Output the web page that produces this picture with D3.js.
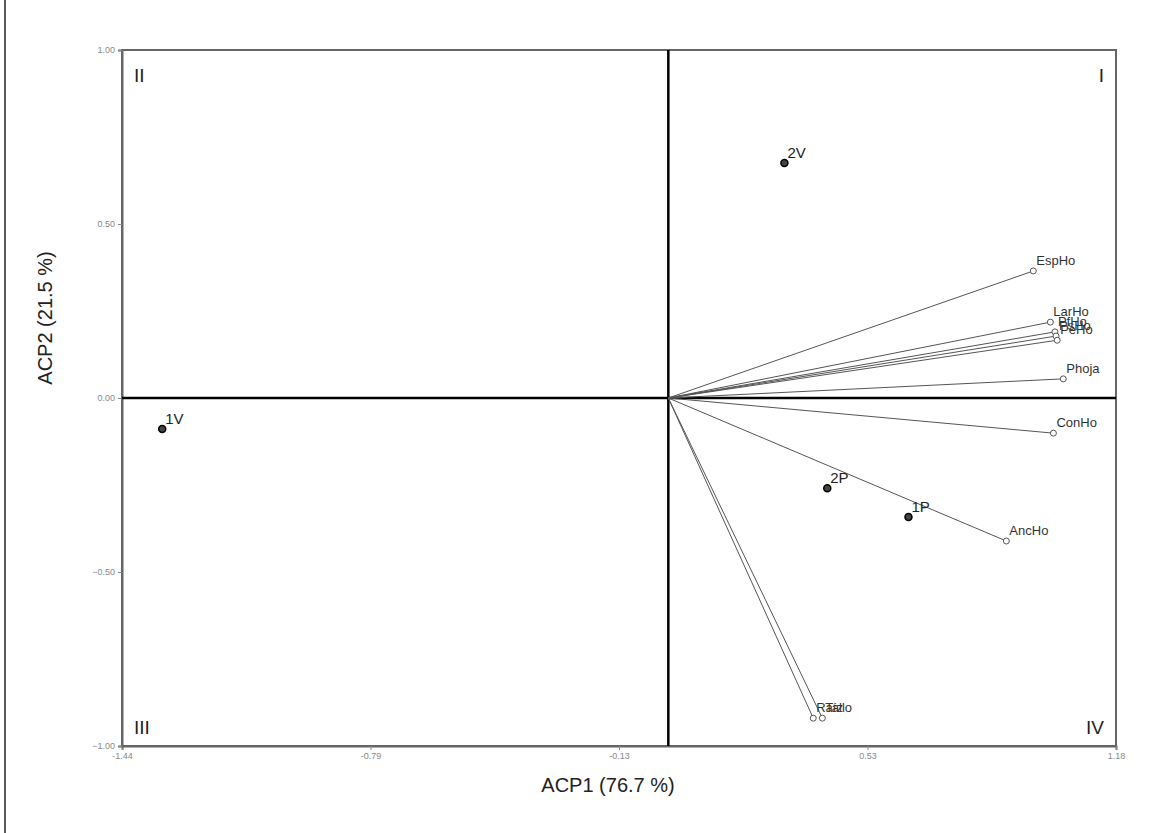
<!DOCTYPE html>
<html>
<head>
<meta charset="utf-8">
<script src="https://cdn.jsdelivr.net/npm/d3@7"></script>
<style>
  body { margin: 0; background: #fff; }
  svg { font-family: "Liberation Sans", Arial, sans-serif; }
  .tick text { fill: #888; font-size: 9px; }
</style>
</head>
<body>
<div id="chart"></div>
<script>
// observations (site scores)
const obsNames = ["2V", "1V", "2P", "1P"];
const obsX = [0.306, -1.334, 0.419, 0.633];
const obsY = [0.675, -0.089, -0.259, -0.342];

// variables (vector endpoints)
const varNames = ["EspHo", "LarHo", "PfHo", "PsHo", "PeHo", "Phoja", "ConHo", "AncHo", "Raíz", "Tallo"];
const varX = [0.962, 1.007, 1.019, 1.022, 1.025, 1.041, 1.015, 0.891, 0.382, 0.406];
const varY = [0.365, 0.218, 0.190, 0.178, 0.166, 0.055, -0.101, -0.411, -0.920, -0.920];

const xTicks = [-1.44, -0.785, -0.13, 0.525, 1.18];
const xTickLabels = ["-1.44", "-0.79", "-0.13", "0.53", "1.18"];
const yTicks = [-1, -0.5, 0, 0.5, 1];

const width = 1169, height = 833;
const margin = {top: 50, right: 53, bottom: 87, left: 122};

const svg = d3.select("#chart").append("svg")
  .attr("width", width)
  .attr("height", height);

// left page border
svg.append("line")
  .attr("x1", 5).attr("x2", 5).attr("y1", 0).attr("y2", height)
  .attr("stroke", "#222").attr("stroke-width", 1.5);

const x = d3.scaleLinear()
  .domain([-1.44, 1.18])
  .range([margin.left, width - margin.right]);
const y = d3.scaleLinear()
  .domain([-1, 1])
  .range([height - margin.bottom, margin.top]);

// frame
svg.append("rect")
  .attr("x", x.range()[0]).attr("y", y.range()[1])
  .attr("width", x.range()[1] - x.range()[0])
  .attr("height", y.range()[0] - y.range()[1])
  .attr("fill", "none").attr("stroke", "#666").attr("stroke-width", 2);

const xAxis = svg.append("g")
  .attr("transform", "translate(0," + y.range()[0] + ")")
  .call(d3.axisBottom(x).tickValues(xTicks).tickSize(4)
    .tickFormat((d, i) => xTickLabels[i]));
const yAxis = svg.append("g")
  .attr("transform", "translate(" + x.range()[0] + ",0)")
  .call(d3.axisLeft(y).tickValues(yTicks).tickSize(4).tickFormat(d3.format(".2f")));
[xAxis, yAxis].forEach(a => {
  a.select(".domain").attr("stroke", "#666").attr("stroke-width", 2);
  a.selectAll(".tick line").attr("stroke", "#888");
});

// zero lines
svg.append("line")
  .attr("x1", x.range()[0]).attr("x2", x.range()[1])
  .attr("y1", y(0)).attr("y2", y(0))
  .attr("stroke", "#000").attr("stroke-width", 2.5);
svg.append("line")
  .attr("x1", x(0)).attr("x2", x(0))
  .attr("y1", y.range()[1]).attr("y2", y.range()[0])
  .attr("stroke", "#000").attr("stroke-width", 2.5);

// quadrant labels
const quad = [
  {t: "II", x: x.range()[0] + 12, y: y.range()[1] + 32, a: "start"},
  {t: "I", x: x.range()[1] - 12, y: y.range()[1] + 32, a: "end"},
  {t: "III", x: x.range()[0] + 12, y: y.range()[0] - 12, a: "start"},
  {t: "IV", x: x.range()[1] - 12, y: y.range()[0] - 12, a: "end"}
];
svg.selectAll(".quad")
  .data(quad)
  .enter().append("text")
  .attr("class", "quad")
  .attr("x", d => d.x).attr("y", d => d.y)
  .attr("text-anchor", d => d.a)
  .attr("font-size", 19).attr("fill", "#222")
  .text(d => d.t);

// vectors
svg.selectAll(".vec")
  .data(varNames)
  .enter().append("line")
  .attr("class", "vec")
  .attr("x1", x(0)).attr("y1", y(0))
  .attr("x2", (d, i) => x(varX[i]))
  .attr("y2", (d, i) => y(varY[i]))
  .attr("stroke", "#555").attr("stroke-width", 1);

svg.selectAll(".vend")
  .data(varNames)
  .enter().append("circle")
  .attr("class", "vend")
  .attr("cx", (d, i) => x(varX[i]))
  .attr("cy", (d, i) => y(varY[i]))
  .attr("r", 3)
  .attr("fill", "#fff").attr("stroke", "#555").attr("stroke-width", 1);

svg.selectAll(".vlab")
  .data(varNames)
  .enter().append("text")
  .attr("class", "vlab")
  .attr("x", (d, i) => x(varX[i]) + 3)
  .attr("y", (d, i) => y(varY[i]) - 6)
  .attr("font-size", 13).attr("fill", "#333")
  .text(d => d);

// observations
svg.selectAll(".obs")
  .data(obsNames)
  .enter().append("circle")
  .attr("class", "obs")
  .attr("cx", (d, i) => x(obsX[i]))
  .attr("cy", (d, i) => y(obsY[i]))
  .attr("r", 3.5)
  .attr("fill", "#444").attr("stroke", "#000").attr("stroke-width", 1.5);

svg.selectAll(".olab")
  .data(obsNames)
  .enter().append("text")
  .attr("class", "olab")
  .attr("x", (d, i) => x(obsX[i]) + 3)
  .attr("y", (d, i) => y(obsY[i]) - 5)
  .attr("font-size", 15).attr("fill", "#222")
  .text(d => d);

// axis titles
svg.append("text")
  .attr("x", 608).attr("y", 792)
  .attr("text-anchor", "middle")
  .attr("font-size", 20).attr("fill", "#222")
  .text("ACP1 (76.7 %)");
svg.append("text")
  .attr("transform", "translate(52,318) rotate(-90)")
  .attr("text-anchor", "middle")
  .attr("font-size", 20).attr("fill", "#222")
  .text("ACP2 (21.5 %)");
</script>
</body>
</html>
